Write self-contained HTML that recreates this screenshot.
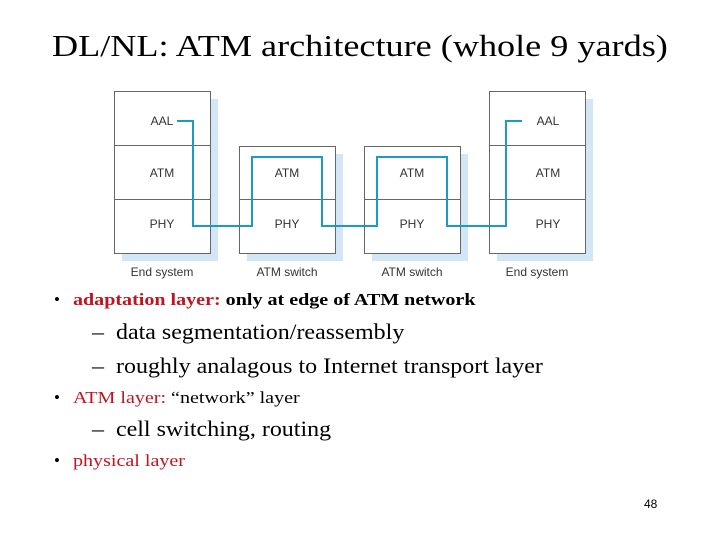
<!DOCTYPE html>
<html><head><style>
body{margin:0;width:720px;height:540px;background:#fff;position:relative;overflow:hidden;font-family:"Liberation Serif",serif}
.t{position:absolute;white-space:nowrap;transform-origin:0 0}
.r{color:#c0141e}
.s{transform:scaleX(1.18)}
.m{transform:scaleX(1.09)}
</style></head><body>
<div class="t" style="left:52px;top:28px;font-size:31px;transform:scaleX(1.167)">DL/NL: ATM architecture (whole 9 yards)</div>
<svg width="720" height="300" style="position:absolute;left:0;top:0" font-family="Liberation Sans, sans-serif" font-size="12" fill="#333">
<g fill="#d3e6f5">
<rect x="122" y="99" width="96" height="162"/>
<rect x="247" y="154" width="96" height="107"/>
<rect x="372" y="154" width="96" height="107"/>
<rect x="497" y="99" width="96" height="162"/>
</g>
<g fill="#fff" stroke="#666" stroke-width="1">
<rect x="114.5" y="91.5" width="96" height="162"/>
<line x1="114" y1="145.5" x2="210" y2="145.5"/><line x1="114" y1="199.5" x2="210" y2="199.5"/>
<rect x="239.5" y="146.5" width="96" height="107"/>
<line x1="239" y1="199.5" x2="335" y2="199.5"/>
<rect x="364.5" y="146.5" width="96" height="107"/>
<line x1="364" y1="199.5" x2="460" y2="199.5"/>
<rect x="489.5" y="91.5" width="96" height="162"/>
<line x1="489" y1="145.5" x2="585" y2="145.5"/><line x1="489" y1="199.5" x2="585" y2="199.5"/>
</g>
<polyline fill="none" stroke="#1b9ac9" stroke-width="2" points="177,121 193,121 193,226 252,226 252,157 322,157 322,226 377,226 377,157 447,157 447,226 506,226 506,121 522,121"/>
<g text-anchor="middle">
<text x="162" y="125">AAL</text><text x="162" y="177">ATM</text><text x="162" y="228">PHY</text>
<text x="287" y="177">ATM</text><text x="287" y="228">PHY</text>
<text x="412" y="177">ATM</text><text x="412" y="228">PHY</text>
<text x="548" y="125">AAL</text><text x="548" y="177">ATM</text><text x="548" y="228">PHY</text>
<text x="162" y="276">End system</text><text x="287" y="276">ATM switch</text>
<text x="412" y="276">ATM switch</text><text x="537" y="276">End system</text>
</g>
</svg>
<div class="t" style="left:54px;top:290px;font-size:17px;">•</div>
<div class="t s" style="left:73px;top:290px;font-size:17px;font-weight:bold"><span class="r">adaptation layer:</span> only at edge of ATM network</div>
<div class="t m" style="left:92px;top:319px;font-size:22px;">–&nbsp; data segmentation/reassembly</div>
<div class="t m" style="left:92px;top:353px;font-size:22px;">–&nbsp; roughly analagous to Internet transport layer</div>
<div class="t" style="left:54px;top:388px;font-size:17px;">•</div>
<div class="t s" style="left:73px;top:388px;font-size:17px;"><span class="r">ATM layer:</span> “network” layer</div>
<div class="t m" style="left:92px;top:416px;font-size:22px;">–&nbsp; cell switching, routing</div>
<div class="t" style="left:54px;top:451px;font-size:17px;">•</div>
<div class="t r s" style="left:73px;top:451px;font-size:17px;">physical layer</div>
<div class="t" style="left:644px;top:497px;font-size:12px;font-family:'Liberation Sans',sans-serif">48</div>
</body></html>
